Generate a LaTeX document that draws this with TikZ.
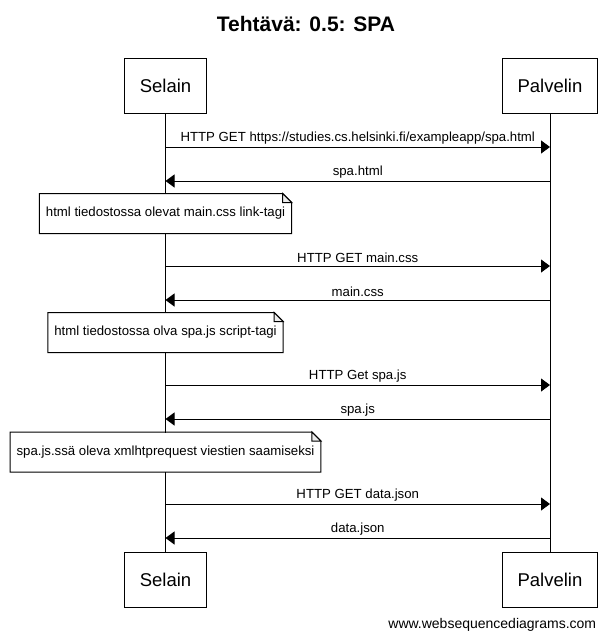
\documentclass[tikz,border=0pt]{standalone}
\usepackage{fontspec}
\setmainfont{Liberation Sans}
\usetikzlibrary{arrows.meta,positioning}

\tikzset{
  actor/.style={draw, minimum height=55pt, inner xsep=15pt, font=\fontsize{18.5}{21}\selectfont},
  msg/.style={-{Triangle[length=9pt,width=13pt]}},
  lbl/.style={above, inner sep=2.5pt, font=\fontsize{13.2}{15}\selectfont},
  note/.style={fill=white, minimum height=39pt, inner xsep=6pt, font=\fontsize{13.2}{15}\selectfont},
}
% folded note outline round a named node
\newcommand{\drawnote}[1]{%
  \draw (#1.south west) -- (#1.north west) -- ([xshift=-9pt]#1.north east)
    -- ([yshift=-9pt]#1.north east) -- (#1.south east) -- cycle;
  \draw[fill=gray!15] ([xshift=-9pt]#1.north east) -- ([xshift=-9pt,yshift=-9pt]#1.north east)
    -- ([yshift=-9pt]#1.north east) -- cycle;}

\begin{document}
\begin{tikzpicture}[x=1pt, y=-1pt, line width=1pt]
	\useasboundingbox (0,0) rectangle (612,643);
	\node[font=\bfseries\fontsize{21}{24}\selectfont] (title) at (306,24) {Tehtävä: 0.5: SPA};
	% Actors and lifelines
	\node[actor] (selT) at (165.5,85.5) {Selain};
	\node[actor] (palT) at (550,85.5) {Palvelin};
	\node[actor] (selB) at (165.5,579.5) {Selain};
	\node[actor] (palB) at (550,579.5) {Palvelin};
	\draw (selT) -- (selB);
	\draw (palT) -- (palB);
	% spa.html
	\coordinate (m1) at (0,147);
	\coordinate (m2) at (0,181);
	\draw[msg] (selT |- m1) -- node[lbl] {HTTP GET https://studies.cs.helsinki.fi/exampleapp/spa.html} (palT |- m1);
	\draw[msg] (palT |- m2) -- node[lbl] {spa.html} (selT |- m2);
	\node[note] (n1) at (selT |- 0,213.5) {html tiedostossa olevat main.css link-tagi};
	\drawnote{n1}
	% main.css
	\coordinate (m3) at (0,266);
	\coordinate (m4) at (0,300);
	\draw[msg] (selT |- m3) -- node[lbl] {HTTP GET main.css} (palT |- m3);
	\draw[msg] (palT |- m4) -- node[lbl] {main.css} (selT |- m4);
	\node[note] (n2) at (selT |- 0,332.5) {html tiedostossa olva spa.js script-tagi};
	\drawnote{n2}
	% spa.js
	\coordinate (m5) at (0,385);
	\coordinate (m6) at (0,419);
	\draw[msg] (selT |- m5) -- node[lbl] {HTTP Get spa.js} (palT |- m5);
	\draw[msg] (palT |- m6) -- node[lbl] {spa.js} (selT |- m6);
	\node[note] (n3) at (selT |- 0,452) {spa.js.ssä oleva xmlhtprequest viestien saamiseksi};
	\drawnote{n3}
	% data.json
	\coordinate (m7) at (0,504);
	\coordinate (m8) at (0,538);
	\draw[msg] (selT |- m7) -- node[lbl] {HTTP GET data.json} (palT |- m7);
	\draw[msg] (palT |- m8) -- node[lbl] {data.json} (selT |- m8);
	\node[anchor=east, font=\fontsize{14}{16}\selectfont] (site) at (600,625) {www.websequencediagrams.com};
\end{tikzpicture}
\end{document}
